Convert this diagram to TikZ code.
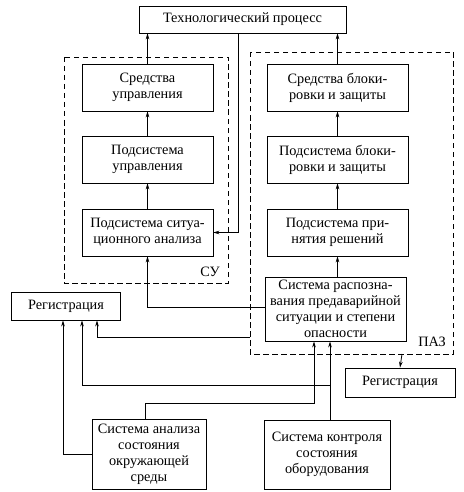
\documentclass[tikz,border=0pt]{standalone}
\usepackage{fontspec}
\setmainfont{Liberation Serif}
\usetikzlibrary{arrows.meta,calc}
\begin{document}
\begin{tikzpicture}[x=1pt,y=-1pt,
  box/.style={draw,line width=0.8pt,align=center,inner sep=1pt,font=\rmfamily\fontsize{14.3}{16}\selectfont},
  arr/.style={line width=0.8pt,-{Stealth[length=6pt,width=3.6pt]}},
  grp/.style={draw,line width=0.8pt,dash pattern=on 5.5pt off 3.5pt},
  lbl/.style={font=\rmfamily\fontsize{14.3}{16}\selectfont,inner sep=0pt}]
\useasboundingbox (0,0) rectangle (463,492);
% groups
\draw[grp] (64,57) rectangle (228,283);
\draw[grp] (250,52) rectangle (453,354);
\node[lbl] (lsu) at (210,272) {СУ};
\node[lbl] (lpaz) at (432,342) {ПАЗ};
% nodes
\node[box,minimum width=207pt,minimum height=27pt] (tech) at (242.5,19.5) {Технологический процесс};
\node[box,minimum width=131pt,minimum height=47pt] (su1) at (147.5,87.5) {Средства\\управления};
\node[box,minimum width=131pt,minimum height=47pt] (su2) at (147.5,159.5) {Подсистема\\управления};
\node[box,minimum width=131pt,minimum height=47pt] (su3) at (147.5,232.5) {Подсистема ситуа-\\ционного анализа};
\node[box,minimum width=141pt,minimum height=47pt] (p1) at (337.5,87.5) {Средства блоки-\\ровки и защиты};
\node[box,minimum width=141pt,minimum height=47pt] (p2) at (337.5,159.5) {Подсистема блоки-\\ровки и защиты};
\node[box,minimum width=141pt,minimum height=47pt] (p3) at (337.5,232.5) {Подсистема при-\\нятия решений};
\node[box,minimum width=141pt,minimum height=64pt] (p4) at (335.5,309) {Система распозна-\\вания предаварийной\\ситуации и степени\\опасности};
\node[box,minimum width=109pt,minimum height=28pt] (reg1) at (66,306) {Регистрация};
\node[box,minimum width=110pt,minimum height=29pt] (reg2) at (400,382.5) {Регистрация};
\node[box,minimum width=114pt,minimum height=70pt] (ana) at (149,454) {Система анализа\\состояния\\окружающей\\среды};
\node[box,minimum width=126pt,minimum height=69pt] (ctl) at (327,454.5) {Система контроля\\состояния\\оборудования};
% coordinates
\coordinate (pazw) at (250,337);
\coordinate (pazs) at (402,354);
\coordinate (ctlup) at (330,0);
\coordinate (anaup) at (314,0);
% connectors
\draw[arr] (su1.north) -- (su1.north |- tech.south);
\draw[arr] (su2.north) -- (su1.south);
\draw[arr] (su3.north) -- (su2.south);
\draw[arr] (p1.north) -- (p1.north |- tech.south);
\draw[arr] (p2.north) -- (p1.south);
\draw[arr] (p3.north) -- (p2.south);
\draw[arr] (p3.south |- p4.north) -- (p3.south);
\draw[arr] ([xshift=-4.5pt]tech.south) |- (su3.east);
\draw[arr] ([yshift=2pt]p4.west) -| (su3.south);
\draw[arr] (pazw) -| ([xshift=31pt]reg1.south);
\draw[arr] (pazs) -- (reg2.north);
\draw[arr] (ctlup |- ctl.north) -- (ctlup |- p4.south);
\draw[arr] (ctlup |- 0,385) -| ([xshift=16pt]reg1.south);
\draw[arr] ([xshift=-4pt]ana.north) |- (anaup |- 0,403) -- (anaup |- p4.south);
\draw[arr] (ana.west) -| ([xshift=-3pt]reg1.south);
\end{tikzpicture}
\end{document}
